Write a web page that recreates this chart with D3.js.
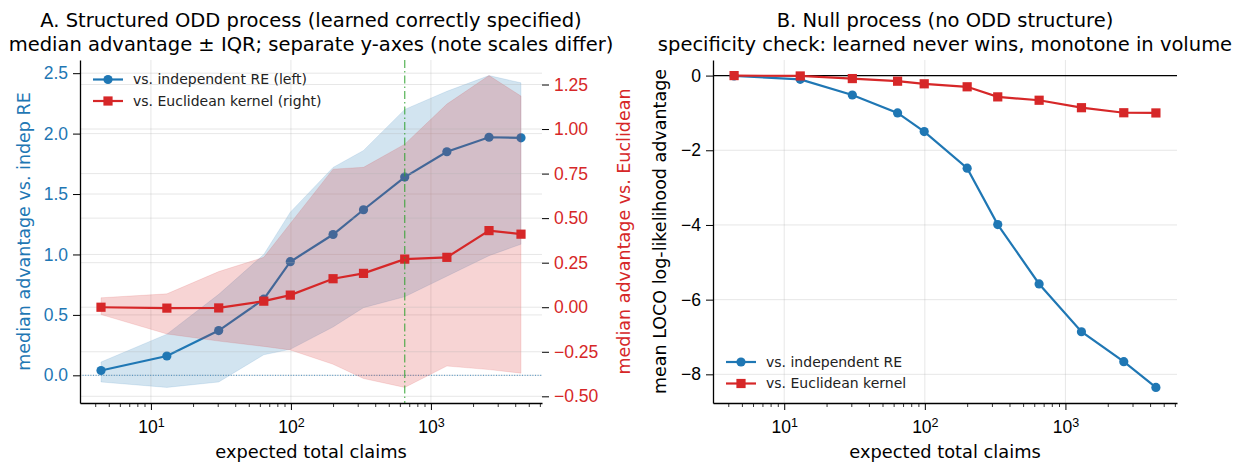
<!DOCTYPE html>
<html>
<head>
<meta charset="utf-8">
<script src="https://cdn.jsdelivr.net/npm/d3@7"></script>
<style>
  body { margin: 0; background: #fff; }
  svg { font-family: "DejaVu Sans", sans-serif; }
</style>
</head>
<body>
<svg id="vis"></svg>
<script>
const WIDTH = 1241;
const HEIGHT = 463;

// datos
const expectedClaims = [4.4, 13, 30.5, 64, 99, 200, 330, 650, 1300, 2600, 4400];
const markedVolume = 650;

// panel A: mediana y rango intercuartil
const indepMedian = [0.04, 0.16, 0.37, 0.63, 0.94, 1.165, 1.37, 1.64, 1.85, 1.97, 1.965];
const indepQ25 = [-0.055, -0.1, -0.055, 0.17, 0.215, 0.4, 0.56, 0.65, 0.82, 0.99, 1.085];
const indepQ75 = [0.11, 0.34, 0.67, 1.0, 1.35, 1.72, 1.86, 2.2, 2.35, 2.48, 2.42];
const euclidMedian = [0.0, -0.005, -0.004, 0.034, 0.068, 0.16, 0.19, 0.27, 0.28, 0.43, 0.41];
const euclidQ25 = [-0.041, -0.15, -0.19, -0.22, -0.24, -0.32, -0.4, -0.45, -0.33, -0.35, -0.37];
const euclidQ75 = [0.053, 0.075, 0.2, 0.28, 0.47, 0.775, 0.785, 0.915, 1.14, 1.3, 1.185];

// panel B: proceso nulo
const nullIndep = [-0.01, -0.1, -0.52, -1.0, -1.5, -2.48, -3.99, -5.58, -6.86, -7.66, -8.35];
const nullEuclid = [0.0, -0.01, -0.08, -0.15, -0.22, -0.3, -0.57, -0.66, -0.86, -0.995, -1.0];

const leftTicks = [0, 0.5, 1, 1.5, 2, 2.5];
const rightTicks = [-0.5, -0.25, 0, 0.25, 0.5, 0.75, 1, 1.25];
const nullTicks = [0, -2, -4, -6, -8];
const xMajor = [10, 100, 1000];

const BLUE = "#1f77b4";
const RED = "#d62728";
const GREEN = "#2ca02c";
const GRID = "#b0b0b0";

const TICK_FONT = "17.5px";
const LABEL_FONT = "17.5px";
const TITLE_FONT = "19.5px";
const LEGEND_FONT = "14px";

const PANEL_A = { left: 80, right: 542, top: 60, bottom: 403 };
const PANEL_B = { left: 713, right: 1177, top: 60, bottom: 403 };

const svg = d3.select("#vis").attr("width", WIDTH).attr("height", HEIGHT);

// margen de 5% como matplotlib
function pad(ext) {
  const m = (ext[1] - ext[0]) * 0.05;
  return [ext[0] - m, ext[1] + m];
}
function padLog(ext) {
  const l = pad([Math.log10(ext[0]), Math.log10(ext[1])]);
  return [10 ** l[0], 10 ** l[1]];
}

const minus = (s) => s.replace("-", "\u2212");

function minorTicks(domain) {
  const out = [];
  for (let e = -1; e <= 5; e++) {
    for (let k = 2; k <= 9; k++) {
      const v = k * 10 ** e;
      if (v >= domain[0] && v <= domain[1]) out.push(v);
    }
  }
  return out;
}

function xAxis(g, x, p) {
  const major = d3.axisBottom(x).tickValues(xMajor).tickSize(7).tickPadding(5).tickSizeOuter(0);
  const eje = g.append("g").attr("transform", `translate(0, ${p.bottom})`).call(major);
  eje.select(".domain").attr("stroke", "#000").attr("stroke-width", 1.3);
  eje.selectAll(".tick line").attr("stroke", "#000").attr("stroke-width", 1);
  eje.selectAll(".tick text")
    .attr("font-size", TICK_FONT)
    .attr("fill", "#000")
    .attr("dy", "1.0em")
    .each(function (d) {
      const t = d3.select(this).text("10");
      t.append("tspan").attr("dy", "-0.45em").attr("font-size", "12.5px").text(Math.round(Math.log10(d)));
    });
  const minor = d3.axisBottom(x).tickValues(minorTicks(x.domain())).tickSize(4).tickFormat("").tickSizeOuter(0);
  const em = g.append("g").attr("transform", `translate(0, ${p.bottom})`).call(minor);
  em.select(".domain").remove();
  em.selectAll(".tick line").attr("stroke", "#000").attr("stroke-width", 0.8);

  g.append("text")
    .attr("x", (p.left + p.right) / 2)
    .attr("y", 458)
    .attr("text-anchor", "middle")
    .attr("font-size", "17.8px")
    .text("expected total claims");
}

function grid(g, x, y, p, yTicks, withX) {
  const gg = g.append("g");
  if (withX) {
    gg.selectAll(".gx")
      .data(xMajor)
      .join("line")
      .attr("x1", (d) => x(d))
      .attr("x2", (d) => x(d))
      .attr("y1", p.top)
      .attr("y2", p.bottom)
      .attr("stroke", GRID)
      .attr("stroke-opacity", 0.3)
      .attr("stroke-width", 1);
  }
  gg.selectAll(".gy")
    .data(yTicks)
    .join("line")
    .attr("x1", p.left)
    .attr("x2", p.right)
    .attr("y1", (d) => y(d))
    .attr("y2", (d) => y(d))
    .attr("stroke", GRID)
    .attr("stroke-opacity", 0.3)
    .attr("stroke-width", 1);
}

function serie(g, x, y, valores, color, marca) {
  const linea = d3.line().x((d, i) => x(expectedClaims[i])).y((d) => y(d));
  g.append("path")
    .datum(valores)
    .attr("d", linea)
    .attr("fill", "none")
    .attr("stroke", color)
    .attr("stroke-width", 2.2);
  if (marca === "o") {
    g.selectAll(null)
      .data(valores)
      .join("circle")
      .attr("cx", (d, i) => x(expectedClaims[i]))
      .attr("cy", (d) => y(d))
      .attr("r", 4.6)
      .attr("fill", color);
  } else {
    g.selectAll(null)
      .data(valores)
      .join("rect")
      .attr("x", (d, i) => x(expectedClaims[i]) - 4.6)
      .attr("y", (d) => y(d) - 4.6)
      .attr("width", 9.2)
      .attr("height", 9.2)
      .attr("fill", color);
  }
}

function banda(g, x, y, q25, q75, color) {
  const area = d3.area()
    .x((d, i) => x(expectedClaims[i]))
    .y0((d, i) => y(q25[i]))
    .y1((d, i) => y(q75[i]));
  g.append("path")
    .datum(expectedClaims)
    .attr("d", area)
    .attr("fill", color)
    .attr("fill-opacity", 0.2)
    .attr("stroke", color)
    .attr("stroke-opacity", 0.12)
    .attr("stroke-width", 1);
}

function leyenda(g, x0, y0, items) {
  const ley = g.append("g").attr("transform", `translate(${x0}, ${y0})`);
  items.forEach((it, i) => {
    const fila = ley.append("g").attr("transform", `translate(0, ${i * 21.5})`);
    fila.append("line").attr("x1", 0).attr("x2", 30).attr("stroke", it.color).attr("stroke-width", 2.2);
    if (it.marca === "o") {
      fila.append("circle").attr("cx", 15).attr("r", 4.6).attr("fill", it.color);
    } else {
      fila.append("rect").attr("x", 10.4).attr("y", -4.6).attr("width", 9.2).attr("height", 9.2).attr("fill", it.color);
    }
    fila.append("text")
      .attr("x", 40)
      .attr("dy", "0.35em")
      .attr("font-size", LEGEND_FONT)
      .attr("fill", "#222")
      .text(it.label);
  });
}

function titulo(p, l1, l2) {
  const cx = (p.left + p.right) / 2;
  svg.append("text").attr("x", cx).attr("y", 27).attr("text-anchor", "middle").attr("font-size", TITLE_FONT).text(l1);
  svg.append("text").attr("x", cx).attr("y", 51).attr("text-anchor", "middle").attr("font-size", TITLE_FONT).text(l2);
}

// ---------- panel A ----------
(function () {
  const p = PANEL_A;
  const g = svg.append("g");
  const x = d3.scaleLog().domain(padLog(d3.extent(expectedClaims))).range([p.left, p.right]);
  const yL = d3.scaleLinear()
    .domain(pad([d3.min(indepQ25), d3.max(indepQ75)]))
    .range([p.bottom, p.top]);
  const yR = d3.scaleLinear()
    .domain(pad([d3.min(euclidQ25), d3.max(euclidQ75)]))
    .range([p.bottom, p.top]);

  // eje izquierdo (azul)
  banda(g, x, yL, indepQ25, indepQ75, BLUE);
  grid(g, x, yL, p, leftTicks, true);
  g.append("line")
    .attr("x1", p.left).attr("x2", p.right)
    .attr("y1", yL(0)).attr("y2", yL(0))
    .attr("stroke", BLUE).attr("stroke-opacity", 0.8)
    .attr("stroke-width", 1).attr("stroke-dasharray", "1 1.6");
  serie(g, x, yL, indepMedian, BLUE, "o");

  // eje derecho (rojo)
  banda(g, x, yR, euclidQ25, euclidQ75, RED);
  grid(g, x, yR, p, rightTicks, false);
  serie(g, x, yR, euclidMedian, RED, "s");

  g.append("line")
    .attr("x1", x(markedVolume)).attr("x2", x(markedVolume))
    .attr("y1", p.top).attr("y2", p.bottom)
    .attr("stroke", GREEN).attr("stroke-opacity", 0.75)
    .attr("stroke-width", 1.3).attr("stroke-dasharray", "8 3 1.5 3");

  const ejeL = g.append("g").attr("transform", `translate(${p.left}, 0)`)
    .call(d3.axisLeft(yL).tickValues(leftTicks).tickFormat(d3.format(".1f")).tickSize(7).tickPadding(5).tickSizeOuter(0));
  ejeL.select(".domain").attr("stroke", "#000").attr("stroke-width", 1.3);
  ejeL.selectAll(".tick text").attr("fill", BLUE).attr("font-size", TICK_FONT);

  const ejeR = g.append("g").attr("transform", `translate(${p.right}, 0)`)
    .call(d3.axisRight(yR).tickValues(rightTicks).tickFormat((d) => minus(d3.format(".2f")(d))).tickSize(7).tickPadding(5).tickSizeOuter(0));
  ejeR.select(".domain").remove();
  ejeR.selectAll(".tick text").attr("fill", RED).attr("font-size", TICK_FONT);

  xAxis(g, x, p);

  g.append("text")
    .attr("transform", `translate(24, ${(p.top + p.bottom) / 2}) rotate(-90)`)
    .attr("text-anchor", "middle")
    .attr("dy", "0.35em")
    .attr("font-size", LABEL_FONT)
    .attr("fill", BLUE)
    .text("median advantage vs. indep RE");
  g.append("text")
    .attr("transform", `translate(624, ${(p.top + p.bottom) / 2}) rotate(-90)`)
    .attr("text-anchor", "middle")
    .attr("dy", "0.35em")
    .attr("font-size", LABEL_FONT)
    .attr("fill", RED)
    .text("median advantage vs. Euclidean");

  leyenda(g, 93, 79.5, [
    { label: "vs. independent RE (left)", color: BLUE, marca: "o" },
    { label: "vs. Euclidean kernel (right)", color: RED, marca: "s" },
  ]);

  titulo(p, "A. Structured ODD process (learned correctly specified)",
    "median advantage \u00b1 IQR; separate y-axes (note scales differ)");
})();

// ---------- panel B ----------
(function () {
  const p = PANEL_B;
  const g = svg.append("g");
  const x = d3.scaleLog().domain(padLog(d3.extent(expectedClaims))).range([p.left, p.right]);
  const y = d3.scaleLinear()
    .domain(pad(d3.extent(nullIndep.concat(nullEuclid))))
    .range([p.bottom, p.top]);

  grid(g, x, y, p, nullTicks, true);
  g.append("line")
    .attr("x1", p.left).attr("x2", p.right)
    .attr("y1", y(0)).attr("y2", y(0))
    .attr("stroke", "#000").attr("stroke-width", 1.3);

  serie(g, x, y, nullIndep, BLUE, "o");
  serie(g, x, y, nullEuclid, RED, "s");

  const ejeY = g.append("g").attr("transform", `translate(${p.left}, 0)`)
    .call(d3.axisLeft(y).tickValues(nullTicks).tickFormat((d) => minus(String(d))).tickSize(7).tickPadding(5).tickSizeOuter(0));
  ejeY.select(".domain").attr("stroke", "#000").attr("stroke-width", 1.3);
  ejeY.selectAll(".tick text").attr("fill", "#000").attr("font-size", TICK_FONT);

  xAxis(g, x, p);

  g.append("text")
    .attr("transform", `translate(660, ${(p.top + p.bottom) / 2}) rotate(-90)`)
    .attr("text-anchor", "middle")
    .attr("dy", "0.35em")
    .attr("font-size", LABEL_FONT)
    .text("mean LOCO log-likelihood advantage");

  leyenda(g, 726, 362, [
    { label: "vs. independent RE", color: BLUE, marca: "o" },
    { label: "vs. Euclidean kernel", color: RED, marca: "s" },
  ]);

  titulo(p, "B. Null process (no ODD structure)",
    "specificity check: learned never wins, monotone in volume");
})();
</script>
</body>
</html>
